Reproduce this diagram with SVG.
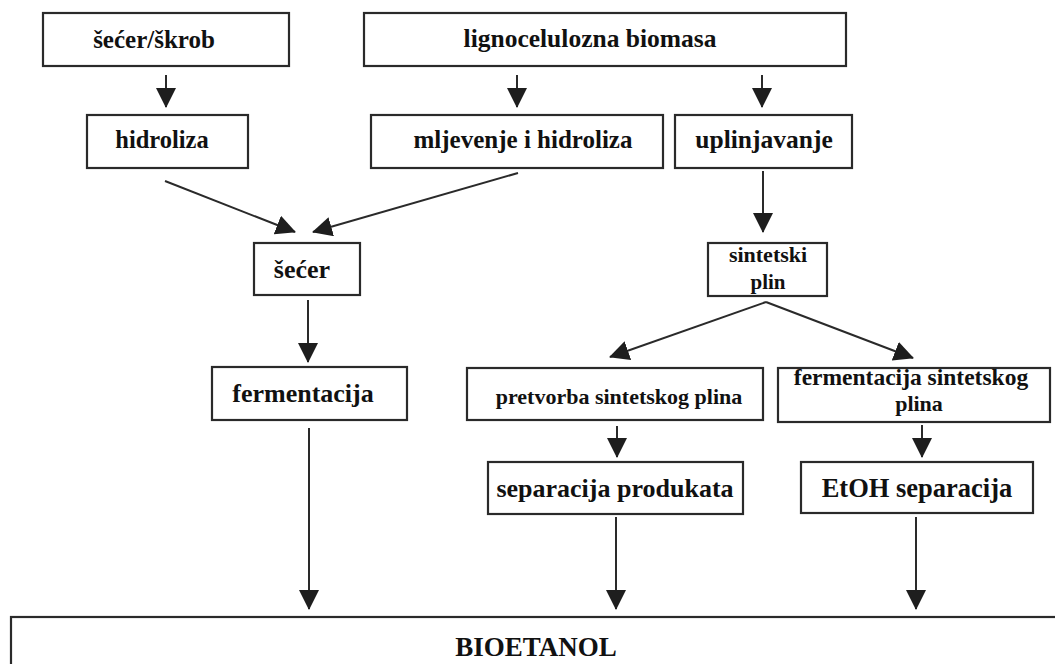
<svg xmlns="http://www.w3.org/2000/svg" width="1055" height="664" viewBox="0 0 1055 664">
<style>
.box{fill:#fff;stroke:#2a2a2a;stroke-width:2.2}
.t{font-family:"Liberation Serif","Times New Roman",serif;font-weight:bold;fill:#111;text-anchor:middle}
.c line{stroke:#2a2a2a;stroke-width:2}
</style>
<defs>
<marker id="ah" markerUnits="userSpaceOnUse" markerWidth="20" markerHeight="20" viewBox="0 0 20 20" refX="19" refY="10" orient="auto">
<path d="M0,0 L20,10 L0,20 z" fill="#1e1e1e"/>
</marker>
</defs>
<rect width="1055" height="664" fill="#fff"/>
<g id="secer_skrob"><rect class="box" x="43" y="13" width="246" height="53"/><text class="t" x="154" y="48" font-size="25">šećer/škrob</text></g>
<g id="lignocelulozna_biomasa"><rect class="box" x="364" y="13" width="482" height="53"/><text class="t" x="590" y="47" font-size="25.5">lignocelulozna biomasa</text></g>
<g id="hidroliza"><rect class="box" x="87" y="115" width="161" height="53"/><text class="t" x="162" y="148" font-size="24.5">hidroliza</text></g>
<g id="mljevenje"><rect class="box" x="371" y="115" width="292" height="53"/><text class="t" x="523" y="148" font-size="25">mljevenje i hidroliza</text></g>
<g id="uplinjavanje"><rect class="box" x="675" y="115" width="177" height="53"/><text class="t" x="764" y="148" font-size="25.5">uplinjavanje</text></g>
<g id="secer"><rect class="box" x="254" y="243" width="106" height="52"/><text class="t" x="302" y="278" font-size="26">šećer</text></g>
<g id="sintetski_plin"><rect class="box" x="708" y="243" width="119" height="53"/><text class="t" x="768" y="262" font-size="22">sintetski</text><text class="t" x="768" y="289" font-size="21">plin</text></g>
<g id="fermentacija"><rect class="box" x="212" y="367" width="195" height="53"/><text class="t" x="303" y="402" font-size="26">fermentacija</text></g>
<g id="pretvorba"><rect class="box" x="467" y="368" width="296" height="52"/><text class="t" x="619" y="404" font-size="22">pretvorba sintetskog plina</text></g>
<g id="fermentacija_sint"><rect class="box" x="778" y="368" width="272" height="54"/><text class="t" x="911" y="385" font-size="23.5">fermentacija sintetskog</text><text class="t" x="919" y="411" font-size="22">plina</text></g>
<g id="separacija"><rect class="box" x="488" y="462" width="255" height="52"/><text class="t" x="615" y="497" font-size="26">separacija produkata</text></g>
<g id="etoh"><rect class="box" x="801" y="462" width="232" height="51"/><text class="t" x="917" y="497" font-size="26.5">EtOH separacija</text></g>
<g id="bioetanol"><rect class="box" x="11" y="617" width="1060" height="70"/><text class="t" x="536" y="656" font-size="27">BIOETANOL</text></g>
<g class="c" id="connectors">
<line x1="166" y1="75" x2="166" y2="107" marker-end="url(#ah)"/>
<line x1="517" y1="75" x2="517" y2="107" marker-end="url(#ah)"/>
<line x1="762" y1="75" x2="762" y2="107" marker-end="url(#ah)"/>
<line x1="165" y1="181" x2="295" y2="232" marker-end="url(#ah)"/>
<line x1="518" y1="173" x2="313" y2="232" marker-end="url(#ah)"/>
<line x1="763" y1="171" x2="763" y2="232" marker-end="url(#ah)"/>
<line x1="308" y1="300" x2="308" y2="362" marker-end="url(#ah)"/>
<line x1="766" y1="302" x2="610" y2="357" marker-end="url(#ah)"/>
<line x1="766" y1="302" x2="913" y2="358" marker-end="url(#ah)"/>
<line x1="617" y1="426" x2="617" y2="457" marker-end="url(#ah)"/>
<line x1="922" y1="425" x2="922" y2="457" marker-end="url(#ah)"/>
<line x1="309" y1="428" x2="309" y2="609" marker-end="url(#ah)"/>
<line x1="616" y1="517" x2="616" y2="609" marker-end="url(#ah)"/>
<line x1="916" y1="517" x2="916" y2="609" marker-end="url(#ah)"/>
</g>
</svg>
